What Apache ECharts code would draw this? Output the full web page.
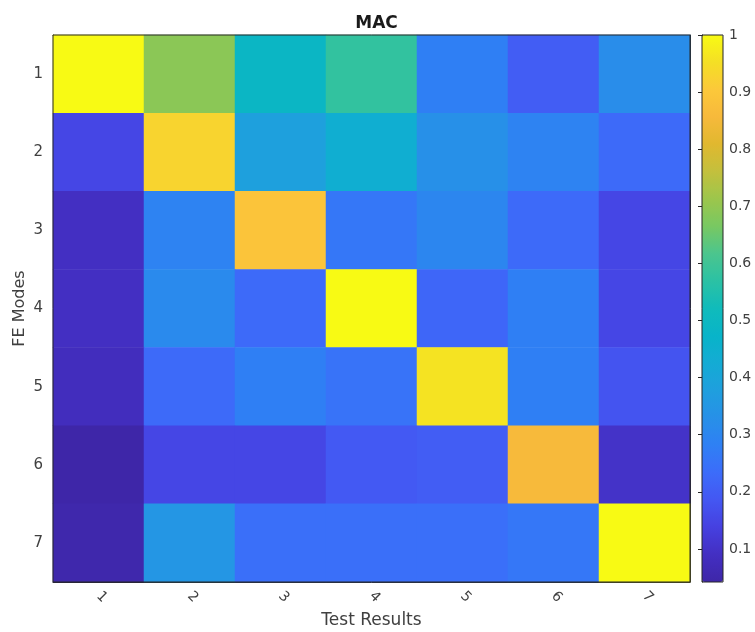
<!DOCTYPE html>
<html>
<head>
<meta charset="utf-8">
<script src="https://cdn.jsdelivr.net/npm/echarts@6/dist/echarts.min.js"></script>
<style>
  html, body { margin: 0; padding: 0; background: #ffffff; }
  #chart { width: 755px; height: 632px; }
</style>
</head>
<body>
<div id="chart"></div>
<script>
// Test result modes along x, finite-element modes along y
const testResults = ['1', '2', '3', '4', '5', '6', '7'];
const feModes = ['1', '2', '3', '4', '5', '6', '7'];

// MAC values, one row per FE mode
const macRow1 = [1.00, 0.69, 0.49, 0.58, 0.28, 0.20, 0.32];
const macRow2 = [0.15, 0.93, 0.38, 0.44, 0.33, 0.29, 0.23];
const macRow3 = [0.09, 0.29, 0.89, 0.26, 0.30, 0.23, 0.15];
const macRow4 = [0.09, 0.31, 0.23, 1.00, 0.22, 0.28, 0.15];
const macRow5 = [0.08, 0.23, 0.28, 0.25, 0.96, 0.28, 0.18];
const macRow6 = [0.042, 0.15, 0.15, 0.19, 0.20, 0.86, 0.10];
const macRow7 = [0.05, 0.35, 0.24, 0.24, 0.24, 0.26, 1.00];
const macRows = [macRow1, macRow2, macRow3, macRow4, macRow5, macRow6, macRow7];

// Colorbar tick labels
const colorbarTicks = [0.1, 0.2, 0.3, 0.4, 0.5, 0.6, 0.7, 0.8, 0.9, 1];

// parula-like colormap, evenly spaced from min to max
const parula = [
  '#3e26a8', '#432fc2', '#4640e0', '#4457f2', '#3c6cfa', '#2f80f4',
  '#2790e8', '#1f9fde', '#14abd4', '#08b4c9', '#10bbbb', '#2bc1a4',
  '#4bc58e', '#78c862', '#9cc64c', '#c3c03d', '#e0b82f', '#f7b93b',
  '#fcc83a', '#f4df25', '#f8fa14'
];

const heatData = [];
macRows.forEach((row, yi) => {
  row.forEach((v, xi) => heatData.push([xi, yi, v]));
});
const allValues = macRows.flat();
const cMin = Math.min(...allValues);
const cMax = Math.max(...allValues);

const axisColor = '#262626';
const labelColor = '#404040';
const fontFamily = 'DejaVu Sans, Liberation Sans, sans-serif';

const plotLeft = 53, plotTop = 35, plotW = 637, plotH = 547;
const barLeft = 702, barW = 21;

const chart = echarts.init(document.getElementById('chart'), null, { renderer: 'canvas' });

chart.setOption({
  backgroundColor: '#ffffff',
  animation: false,
  textStyle: { fontFamily: fontFamily },
  title: {
    text: 'MAC',
    left: plotLeft + plotW / 2,
    textAlign: 'center',
    top: 10,
    textStyle: { fontSize: 17, fontWeight: 'bold', color: '#1a1a1a', fontFamily: fontFamily }
  },
  grid: [
    { left: plotLeft, top: plotTop, width: plotW, height: plotH, show: true,
      outerBoundsMode: 'none', containLabel: false,
      borderColor: axisColor, borderWidth: 1, z: 10, backgroundColor: 'transparent' },
    { left: barLeft, top: plotTop, width: barW, height: plotH, show: true,
      outerBoundsMode: 'none', containLabel: false,
      borderColor: axisColor, borderWidth: 1, z: 10, backgroundColor: 'transparent' }
  ],
  xAxis: [
    {
      type: 'category', data: testResults, gridIndex: 0, position: 'bottom',
      axisLine: { show: true, lineStyle: { color: axisColor } },
      axisTick: { show: true, inside: true, alignWithLabel: true, length: 6, lineStyle: { color: axisColor } },
      axisLabel: { rotate: -45, color: labelColor, fontSize: 14, margin: 12 },
      splitLine: { show: false },
      name: 'Test Results', nameLocation: 'middle', nameGap: 30,
      nameTextStyle: { fontSize: 17, color: labelColor }
    },
    {
      type: 'category', data: testResults, gridIndex: 0, position: 'top',
      axisLine: { show: true, lineStyle: { color: axisColor } },
      axisTick: { show: true, inside: true, alignWithLabel: true, length: 6, lineStyle: { color: axisColor } },
      axisLabel: { show: false },
      splitLine: { show: false }
    },
    { type: 'value', gridIndex: 1, min: 0, max: 1, show: false }
  ],
  yAxis: [
    {
      type: 'category', data: feModes, gridIndex: 0, inverse: true, position: 'left',
      axisLine: { show: true, lineStyle: { color: axisColor } },
      axisTick: { show: true, inside: true, alignWithLabel: true, length: 6, lineStyle: { color: axisColor } },
      axisLabel: { color: labelColor, fontSize: 15, margin: 10 },
      splitLine: { show: false },
      name: 'FE Modes', nameLocation: 'middle', nameGap: 25, nameRotate: 90,
      nameMoveOverlap: false,
      nameTextStyle: { fontSize: 16, color: labelColor }
    },
    {
      type: 'category', data: feModes, gridIndex: 0, inverse: true, position: 'right',
      axisLine: { show: true, lineStyle: { color: axisColor } },
      axisTick: { show: true, inside: true, alignWithLabel: true, length: 6, lineStyle: { color: axisColor } },
      axisLabel: { show: false },
      splitLine: { show: false }
    },
    {
      type: 'value', gridIndex: 1, min: cMin, max: cMax, position: 'right',
      axisLine: { show: true, lineStyle: { color: axisColor } },
      axisTick: { show: true, inside: true, length: 4, customValues: colorbarTicks, lineStyle: { color: axisColor } },
      axisLabel: {
        show: true, customValues: colorbarTicks, color: labelColor, fontSize: 14, margin: 6,
        formatter: v => String(Math.round(v * 10) / 10)
      },
      splitLine: { show: false }
    }
  ],
  visualMap: {
    type: 'continuous',
    seriesIndex: 0,
    min: cMin,
    max: cMax,
    calculable: false,
    hoverLink: false,
    orient: 'vertical',
    left: barLeft,
    top: plotTop,
    itemWidth: barW,
    itemHeight: plotH,
    padding: 0,
    text: null,
    inRange: { color: parula }
  },
  series: [
    {
      type: 'heatmap',
      xAxisIndex: 0,
      yAxisIndex: 0,
      data: heatData,
      label: { show: false },
      itemStyle: { borderWidth: 0 },
      emphasis: { disabled: true }
    }
  ]
});
</script>
</body>
</html>
